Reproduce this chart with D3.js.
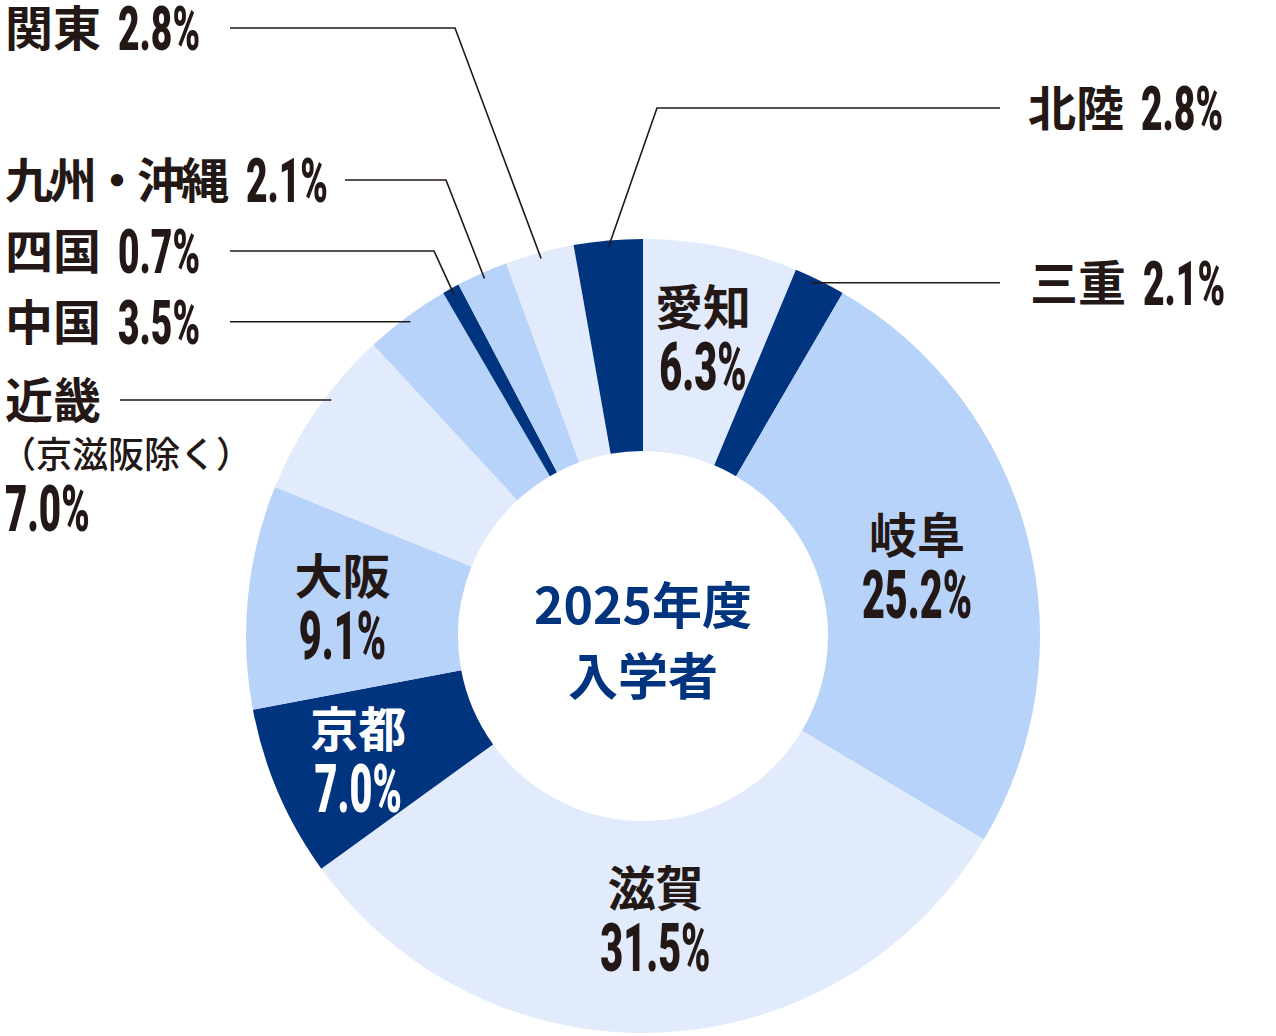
<!DOCTYPE html>
<html>
<head>
<meta charset="utf-8">
<script src="https://cdn.jsdelivr.net/npm/d3@7"></script>
<style>
  body { margin: 0; background: #fff; }
  svg { display: block; }
  .jp { font-family: "Noto Sans CJK JP", sans-serif; font-weight: 700; fill: #231815; }
  .num { font-family: Roboto, "Liberation Sans", sans-serif; font-weight: 900; fill: #231815; }
  .leader { stroke: #231815; stroke-width: 1.6; fill: none; }
</style>
</head>
<body>
<div class="container"></div>
<script>
const regions = ['愛知', '三重', '岐阜', '滋賀', '京都', '大阪', '近畿', '中国', '四国', '九州・沖縄', '関東', '北陸'];
const shares = [6.3, 2.1, 25.2, 31.5, 7.0, 9.1, 7.0, 3.5, 0.7, 2.1, 2.8, 2.8];
const tones = ['light', 'dark', 'mid', 'light', 'dark', 'mid', 'light', 'mid', 'dark', 'mid', 'light', 'dark'];
const centerTitle = ['2025年度', '入学者'];
const kinkiNote = '（京滋阪除く）';

const width = 1276, height = 1036,
    cx = 643, cy = 636,
    outerR = 397, innerR = 185;

const toneColor = d3.scaleOrdinal()
    .domain(['light', 'mid', 'dark'])
    .range(['#e1ebfb', '#b8d3f9', '#00347f']);

// labels drawn inside the ring: radius of the label centre
const inside = {
    '愛知': { r: 305 },
    '岐阜': { r: 283 },
    '滋賀': { r: 282 },
    '京都': { r: 310, white: true },
    '大阪': { r: 302 }
};

// labels drawn outside with leader lines
const outside = {
    '関東': { tx: 5, ty: 28, from: 230, elbow: [455, 28] },
    '九州・沖縄': { tx: 5, ty: 180, from: 345, elbow: [446, 180] },
    '四国': { tx: 5, ty: 251, from: 230, elbow: [434, 251] },
    '中国': { tx: 5, from: 230 },
    '近畿': { tx: 5, from: 120, t: 0.6, note: true },
    '北陸': { tx: 1028, ty: 108, from: 1000, elbow: [657, 108] },
    '三重': { tx: 1030, from: 1000, t: 0.36 }
};

const data = regions.map((name, i) => ({ name, share: shares[i], tone: tones[i] }));

const svg = d3.select('.container')
    .append('svg')
    .attr('width', width)
    .attr('height', height);

const pie = d3.pie().sort(null).value(d => d.share);
const arcs = pie(data);

const arc = d3.arc().innerRadius(innerR).outerRadius(outerR);

const chart = svg.append('g').attr('transform', `translate(${cx},${cy})`);

chart.selectAll('path')
    .data(arcs)
    .enter()
    .append('path')
    .attr('d', arc)
    .attr('fill', d => toneColor(d.data.tone));

// centre title
chart.selectAll('.center')
    .data(centerTitle)
    .enter()
    .append('text')
    .attr('class', 'center')
    .attr('text-anchor', 'middle')
    .attr('y', (d, i) => -12 + i * 71)
    .style('font-family', '"Noto Sans CJK JP", sans-serif')
    .style('font-weight', 700)
    .style('font-size', '50px')
    .style('fill', '#00347f')
    .text(d => d);

const pct = v => v.toFixed(1) + '%';
const numScale = 0.6;

function numberText(parent, x, baseline, str, anchor, size, fill) {
    return parent.append('text')
        .attr('class', 'num')
        .attr('text-anchor', anchor)
        .attr('transform', `translate(${x},${baseline}) scale(${numScale},1)`)
        .style('font-size', size + 'px')
        .style('fill', fill || null)
        .text(str);
}

// inside labels
arcs.filter(d => inside[d.data.name]).forEach(d => {
    const opt = inside[d.data.name];
    const mid = (d.startAngle + d.endAngle) / 2;
    const x = cx + Math.sin(mid) * opt.r,
        y = cy - Math.cos(mid) * opt.r;
    const fill = opt.white ? '#ffffff' : '#231815';
    svg.append('text')
        .attr('class', 'jp')
        .attr('text-anchor', 'middle')
        .attr('x', x)
        .attr('y', y - 30 + 18)
        .style('font-size', '48px')
        .style('fill', fill)
        .text(d.data.name);
    numberText(svg, x, y + 30 + 23, pct(d.data.share), 'middle', 66, fill);
});

// outside labels
arcs.filter(d => outside[d.data.name]).forEach(d => {
    const opt = outside[d.data.name];
    const t = opt.t == null ? 0.5 : opt.t;
    const a = d.startAngle + (d.endAngle - d.startAngle) * t;
    const ar = 391;
    const ax = cx + Math.sin(a) * ar,
        ay = cy - Math.cos(a) * ar;
    const ty = opt.ty == null ? ay : opt.ty;

    const pts = opt.elbow
        ? [[opt.from, ty], opt.elbow, [ax, ay]]
        : [[opt.from, ay], [ax, ay]];
    svg.append('path')
        .attr('class', 'leader')
        .attr('d', d3.line()(pts));

    const name = svg.append('text')
        .attr('class', 'jp')
        .attr('x', opt.tx)
        .attr('y', ty + 18)
        .style('font-size', '48px')
        // tighter spacing where a middle dot is used
        .style('letter-spacing', d.data.name.includes('・') ? '-4px' : null)
        .text(d.data.name);

    if (opt.note) {
        svg.append('text')
            .attr('class', 'jp')
            .attr('x', opt.tx - 5)
            .attr('y', ty + 68)
            .style('font-size', '36px')
            .style('font-weight', 500)
            .text(kinkiNote);
        numberText(svg, opt.tx, ty + 131, pct(d.data.share), 'start', 64);
    } else {
        const bb = name.node().getBBox();
        numberText(svg, bb.x + bb.width + 17, ty + 22, pct(d.data.share), 'start', 62);
    }
});
</script>
</body>
</html>
